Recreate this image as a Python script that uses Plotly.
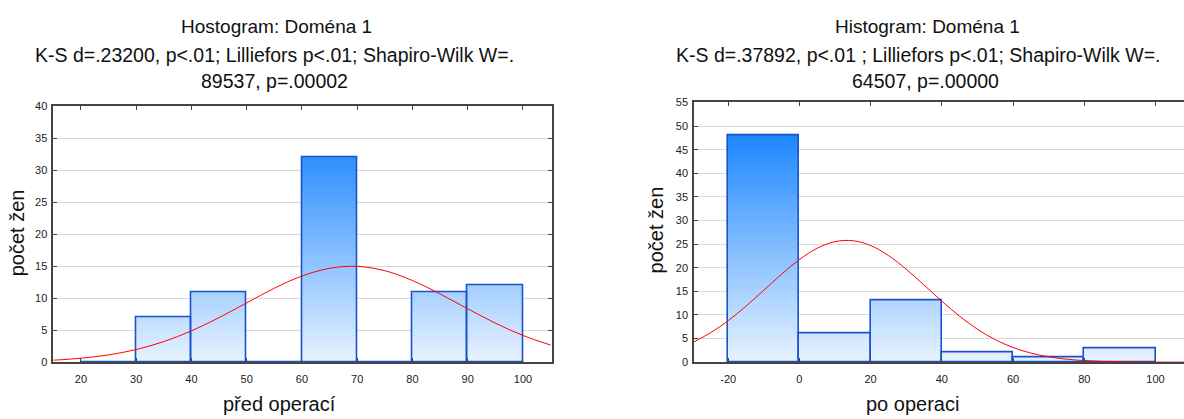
import plotly.graph_objects as go

# ---------------- data ----------------
pre_bin_centers = [25, 35, 45, 55, 65, 75, 85, 95]
pre_counts = [0, 7, 11, 0, 32, 0, 11, 12]
pre_bin_width = 10

post_bin_centers = [-10, 10, 30, 50, 70, 90]
post_counts = [48, 6, 13, 2, 1, 3]
post_bin_width = 20

# fitted normal curve
pre_curve_x = [15, 20, 25, 30, 35, 40, 45, 50, 55, 60, 65, 70, 75, 80, 85, 90, 95, 100, 105]
pre_curve_y = [0.31, 0.62, 1.14, 1.98, 3.22, 4.9, 6.97, 9.28, 11.56, 13.47, 14.68, 14.98,
               14.3, 12.77, 10.67, 8.35, 6.11, 4.18, 2.68]

post_curve_x = [-30, -25, -20, -15, -10, -5, 0, 5, 10, 15, 20, 25, 30, 35, 40, 45, 50, 55,
                60, 65, 70, 75, 80, 85, 90, 95, 100, 105, 110]
post_curve_y = [4.18, 6.21, 8.8, 11.86, 15.23, 18.64, 21.73, 24.13, 25.53, 25.73, 24.7, 22.59,
                19.68, 16.34, 12.92, 9.73, 6.98, 4.77, 3.11, 1.93, 1.14, 0.64, 0.34, 0.18,
                0.09, 0.04, 0.02, 0.01, 0.0]

pre_xticks = [20, 30, 40, 50, 60, 70, 80, 90, 100]
post_xticks = [-20, 0, 20, 40, 60, 80, 100]
post_xtick_labels = ["-20", "0", "20", "40", "60", "80", "100"]

FONT = "Liberation Sans, Arial, sans-serif"

fig = go.Figure()


def grad_color(f):
    lo = (232, 243, 255)
    hi = (28, 134, 255)
    f = max(0.0, min(1.0, f / 0.88))
    c = [round(lo[i] + (hi[i] - lo[i]) * f) for i in range(3)]
    return f"rgb({c[0]},{c[1]},{c[2]})"


def add_hist(centers, counts, width, ymax, xa, ya, curve_x, curve_y):
    nslices = 70
    step = ymax / nslices
    for k in range(nslices):
        lo = k * step
        ys = [max(0.0, min(c - lo, step)) for c in counts]
        if max(ys) <= 0:
            continue
        fig.add_trace(go.Bar(
            x=centers, y=[y + step * 0.02 if y > 0 else 0 for y in ys], base=[lo] * len(centers),
            width=width, marker=dict(color=grad_color((lo + step / 2) / ymax), line=dict(width=0)),
            xaxis=xa, yaxis=ya, showlegend=False, hoverinfo="skip"))
    # outline
    fig.add_trace(go.Bar(
        x=centers, y=counts, width=width,
        marker=dict(color="rgba(0,0,0,0)", line=dict(color="#1852cc", width=1.6)),
        xaxis=xa, yaxis=ya, showlegend=False))
    fig.add_trace(go.Scatter(
        x=curve_x, y=curve_y, mode="lines", line=dict(color="#ff0000", width=1, shape="spline"),
        xaxis=xa, yaxis=ya, showlegend=False))


add_hist(pre_bin_centers, pre_counts, pre_bin_width, 40, "x", "y", pre_curve_x, pre_curve_y)
add_hist(post_bin_centers, post_counts, post_bin_width, 55, "x2", "y2", post_curve_x, post_curve_y)

W, H = 1184, 419

axis_common = dict(showline=True, linecolor="#444444", linewidth=1.5, ticks="inside",
                   ticklen=4, tickcolor="#444444", tickfont=dict(family=FONT, size=11, color="#222"),
                   zeroline=False)

fig.update_layout(
    width=W, height=H, margin=dict(l=0, r=0, t=0, b=0),
    paper_bgcolor="white", plot_bgcolor="white",
    barmode="overlay", bargap=0,
    font=dict(family=FONT, color="#111"),
    xaxis=dict(domain=[53.3 / W, 551.7 / W], range=[15, 105.2], tickvals=pre_xticks,
               mirror="ticks", showgrid=False, anchor="y", ticklabelstandoff=6, **axis_common),
    yaxis=dict(domain=[(H - 366.7) / H, (H - 103.3) / H], range=[0, 40], dtick=5,
               mirror="ticks", showgrid=True, gridcolor="#d9d9d9", gridwidth=1.3, anchor="x",
               ticklabelstandoff=2, **axis_common),
    xaxis2=dict(domain=[694 / W, 1.0], range=[-29.6, 108], tickvals=post_xticks,
                ticktext=post_xtick_labels,
                mirror="ticks", showgrid=False, anchor="y2", ticklabelstandoff=6, **axis_common),
    yaxis2=dict(domain=[(H - 366.7) / H, (H - 99.3) / H], range=[0, 55], dtick=5,
                mirror=False, showgrid=True, gridcolor="#d9d9d9", gridwidth=1.3, anchor="x2",
                ticklabelstandoff=2, **axis_common),
)

ann = []


def txt(x, y, s, size=20, angle=0):
    ann.append(dict(x=x / W, y=1 - y / H, xref="paper", yref="paper", text=s, showarrow=False,
                    xanchor="center", yanchor="middle", textangle=angle,
                    font=dict(family=FONT, size=size, color="#111")))


txt(276, 21, "Hostogram: Doména 1", size=19)
txt(274, 50, "K-S d=.23200, p&lt;.01; Lilliefors p&lt;.01; Shapiro-Wilk W=.", size=19.5)
txt(274, 77, "89537, p=.00002", size=19.5)
txt(927, 21, "Histogram: Doména 1", size=19)
txt(918, 50, "K-S d=.37892, p&lt;.01 ; Lilliefors p&lt;.01; Shapiro-Wilk W=.", size=19.5)
txt(925, 77, "64507, p=.00000", size=19.5)
txt(17, 234, "počet žen", angle=-90)
txt(656, 231, "počet žen", angle=-90)
txt(279, 410, "před operací")
txt(912, 410, "po operaci")

fig.update_layout(annotations=ann)

fig.write_html("out.html")
